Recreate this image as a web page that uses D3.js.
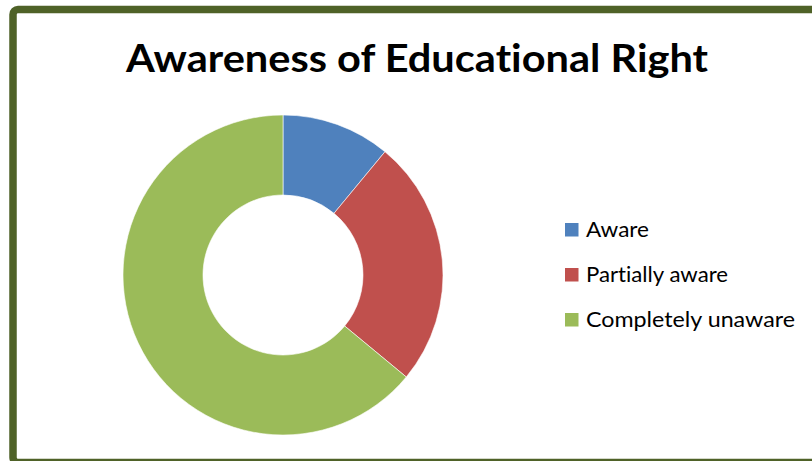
<!DOCTYPE html>
<html>
<head>
<meta charset="utf-8">
<script src="https://cdn.jsdelivr.net/npm/d3@7"></script>
<style>
  html, body { margin: 0; padding: 0; background: #fff; }
  svg { display: block; }
  text { font-variant-ligatures: none; font-feature-settings: "liga" 0, "clig" 0; }
</style>
</head>
<body>
<svg id="chart" width="812" height="461"></svg>
<script>
// Survey shares (percent) for awareness of the right to education
const categories = ["Aware", "Partially aware", "Completely unaware"];
const values = [11, 25, 64];
const colors = ["#4f81bd", "#c0504d", "#9bbb59"];
const title = "Awareness of Educational Right";

const svg = d3.select("#chart");
const W = 812, H = 461;

// Chart frame: thick olive border, running off the right and bottom edges
svg.append("rect")
  .attr("x", 13).attr("y", 9.5)
  .attr("width", W + 20).attr("height", 453)
  .attr("rx", 5).attr("ry", 5)
  .attr("fill", "#fff")
  .attr("stroke", "#4f6228")
  .attr("stroke-width", 7.5);

// Title
const fontFam = "Lato, 'Open Sans', 'Liberation Sans', sans-serif";
const t = svg.append("text")
  .attr("x", 417).attr("y", 71.5)
  .attr("text-anchor", "middle")
  .attr("font-family", fontFam)
  .attr("font-weight", 700)
  .attr("font-size", 39)
  .attr("fill", "#000")
  .text(title);
t.attr("textLength", 582).attr("lengthAdjust", "spacingAndGlyphs");

// Donut
const cx = 283, cy = 275, outerR = 160, innerR = 80;
const pie = d3.pie().sort(null).value(d => d)(values);
const arc = d3.arc().innerRadius(innerR).outerRadius(outerR);
const color = d3.scaleOrdinal().domain(categories).range(colors);

svg.append("g")
  .attr("transform", `translate(${cx},${cy})`)
  .selectAll("path")
  .data(pie)
  .join("path")
  .attr("d", arc)
  .attr("fill", (d, i) => color(categories[i]))
  .attr("stroke", "#fff")
  .attr("stroke-width", 0.6);

// Legend
const legendY = d3.scalePoint().domain(categories).range([223, 313]);
const lg = svg.append("g").selectAll("g")
  .data(categories)
  .join("g")
  .attr("transform", d => `translate(565,${legendY(d)})`);
lg.append("rect")
  .attr("width", 13.5).attr("height", 13.5)
  .attr("fill", d => color(d));
const lt = lg.append("text")
  .attr("x", 21).attr("y", 13.8)
  .attr("font-family", fontFam)
  .attr("font-size", 20.5)
  .attr("fill", "#000")
  .text(d => d);
// Fit label widths to the target text lengths
const labelWidths = { "Aware": 63, "Partially aware": 142, "Completely unaware": 209 };
lt.attr("textLength", d => labelWidths[d]).attr("lengthAdjust", "spacingAndGlyphs");
</script>
</body>
</html>
